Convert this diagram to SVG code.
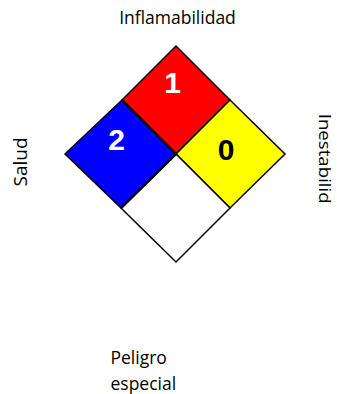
<svg xmlns="http://www.w3.org/2000/svg" width="337" height="394" viewBox="0 0 337 394">
<style>
.sq{stroke:#000;stroke-width:1.5;stroke-linejoin:miter}
.num{font-family:"Liberation Sans",Arial,sans-serif;font-weight:bold;font-size:30px;text-anchor:middle}
.lbl{font-family:"Open Sans","Liberation Sans",sans-serif;font-size:17.5px;fill:#000}
</style>
<rect width="337" height="394" fill="#fff"/>
<g id="red">
<polygon class="sq" points="176,46 230,100 176,154 122,100" fill="#ff0000"/>
<text class="num" x="172.5" y="93" fill="#fff">1</text>
</g>
<g id="yellow">
<polygon class="sq" points="230,100 285,154 230,208 176,154" fill="#ffff00"/>
<text class="num" x="226" y="159.5" fill="#000">0</text>
</g>
<g id="white">
<polygon class="sq" points="176,154 230,208 176,262 121,208" fill="#fff"/>
</g>
<g id="blue">
<polygon class="sq" points="122,100 176,154 121,208 65,154" fill="#0000ff"/>
<path d="M122,100 L176,154 L121,208" fill="none" stroke="#000" stroke-width="2.5"/>
<text class="num" x="116.7" y="149.5" fill="#fff">2</text>
</g>
<g id="labels">
<text id="inflamabilidad" class="lbl" x="177.5" y="24" text-anchor="middle">Inflamabilidad</text>
<text id="salud" class="lbl" transform="translate(27,162) rotate(-90)" text-anchor="middle" style="font-size:19px">Salud</text>
<text id="inestabilid" class="lbl" transform="translate(318.5,158.7) rotate(90)" text-anchor="middle" style="font-size:17px" textLength="90" lengthAdjust="spacingAndGlyphs">Inestabilid</text>
<text id="peligro" class="lbl" x="110.5" y="364">Peligro</text>
<text id="especial" class="lbl" x="110.5" y="390">especial</text>
</g>
<g id="connectors"></g>
</svg>
